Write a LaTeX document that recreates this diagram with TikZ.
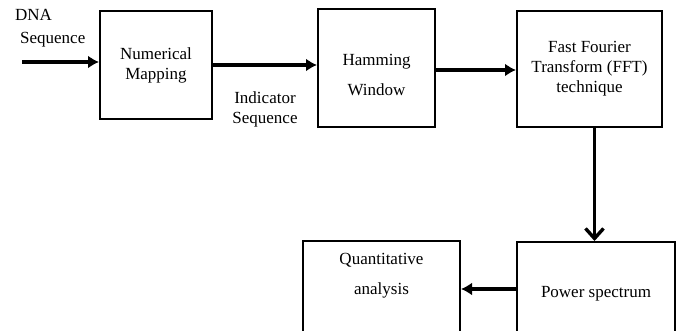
\documentclass[tikz,border=0pt]{standalone}
\usepackage{fontspec}
\setmainfont{Liberation Serif}
\usetikzlibrary{positioning,arrows.meta}

\begin{document}
\begin{tikzpicture}[x=1pt,y=-1pt,font=\fontsize{17}{20}\selectfont,
  blk/.style={draw,line width=2pt,align=center,inner sep=4pt},
  flow/.style={line width=3.4pt,-{Latex[length=11pt,width=13pt]}}]
\useasboundingbox (0,0) rectangle (683,331);
\clip (0,0) rectangle (683,331);
% blocks
\node[blk,minimum width=112pt,minimum height=108pt] (map) at (156,65) {Numerical\\Mapping};
\node[blk,minimum width=117pt,minimum height=118pt] (ham) at (376.5,68) {\rule{0pt}{26pt}Hamming\\[10pt]Window};
\node[blk,minimum width=145pt,minimum height=116pt] (fft) at (589.5,69) {Fast Fourier\\Transform (FFT)\\technique};
\node[blk,minimum width=158pt,minimum height=104pt] (pow) at (596,294) {Power spectrum};
\node[blk,minimum width=157pt,minimum height=104pt] (qa) at (381.5,293) {};
\node[align=center,below=10pt of qa.north] (qatxt) {Quantitative\\[10pt]analysis};
% labels
\node[align=left,anchor=north west,inner sep=0pt] (dna) at (15,9) {DNA\\[3pt]\hspace{5pt}Sequence};
\node[align=center] (ind) at (265,109) {Indicator\\Sequence};
% arrows
\coordinate (src) at (22,62);
\draw[flow] (src) -- (src -| map.west);
\draw[flow] (map.east) -- (map.east -| ham.west);
\draw[flow] ([yshift=-2pt]ham.east) -- ([yshift=-2pt]ham.east -| fft.west);
\draw[flow,-{Straight Barb[length=10pt,width=18pt]}] ([xshift=5pt]fft.south) -- ([xshift=5pt]fft.south |- pow.north);
\draw[flow] ([yshift=5pt]pow.west) -- ([yshift=5pt]pow.west -| qa.east);
\end{tikzpicture}
\end{document}
